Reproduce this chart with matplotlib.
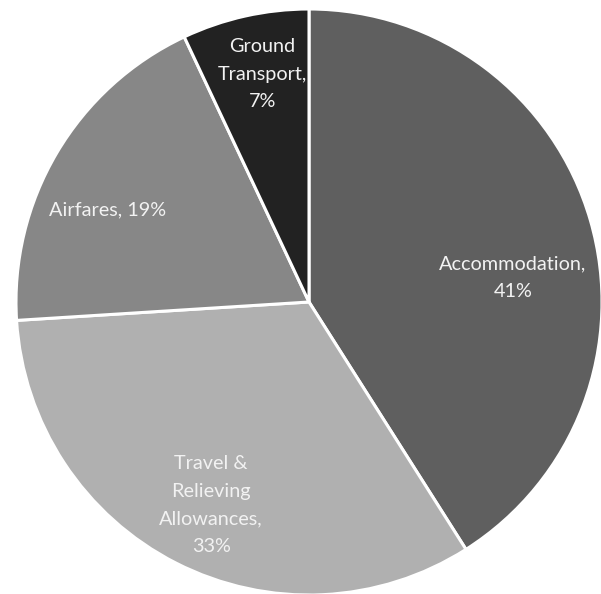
import matplotlib
matplotlib.use("Agg")
import matplotlib.pyplot as plt

labels = ["Accommodation,\n41%", "Travel &\nRelieving\nAllowances,\n33%", "Airfares, 19%", "Ground\nTransport,\n7%"]
values = [41, 33, 19, 7]
colors = ["#5f5f5f", "#b0b0b0", "#878787", "#222222"]
# label spots (x, y) in units of the pie radius
label_xy = [(0.696, 0.082), (-0.334, -0.693), (-0.689, 0.314), (-0.160, 0.778)]

fig = plt.figure(figsize=(6.01, 5.94), dpi=100)
ax = fig.add_axes([0, 0, 1, 1])

R = 293.0
cx, cy = 309.0, 302.0
W, H = 601.0, 594.0

ax.pie(values, colors=colors, startangle=90, counterclock=False, radius=1,
       wedgeprops=dict(edgecolor="white", linewidth=2.2))

for lab, (x, y) in zip(labels, label_xy):
    ax.text(x, y, lab, ha="center", va="center", color="#f2f2f2",
            fontsize=14.3, family="Lato", linespacing=1.75)

ax.set_xlim(-cx / R, (W - cx) / R)
ax.set_ylim(-(H - cy) / R, cy / R)
ax.set_aspect("auto")
ax.axis("off")

fig.savefig("out.png", dpi=100, facecolor="white")
